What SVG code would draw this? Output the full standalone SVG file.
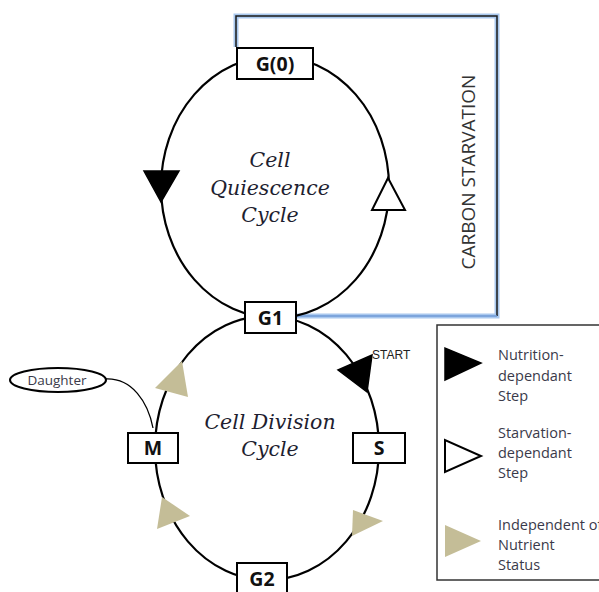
<svg xmlns="http://www.w3.org/2000/svg" width="599" height="592" viewBox="0 0 599 592">
<style>
.cyc{fill:none;stroke:#000;stroke-width:2.2}
.box{fill:#fff;stroke:#000;stroke-width:2}
.lbl{font-family:"Open Sans","Noto Sans",sans-serif;font-weight:bold;font-size:19.5px;fill:#111;text-anchor:middle}
.title{font-family:"DejaVu Serif",serif;font-style:italic;font-size:20.5px;fill:#1e1e30;text-anchor:middle}
.leg{font-family:"Open Sans","Noto Sans",sans-serif;font-size:14.5px;fill:#3a3a4a}
.tan{fill:#c4bd97}
.blk{fill:#000;stroke:#000;stroke-width:1.5;stroke-linejoin:miter}
.wht{fill:#fff;stroke:#000;stroke-width:2;stroke-linejoin:miter}
</style>
<rect width="599" height="592" fill="#fff"/>
<g id="connectors">
  <path d="M236,47 V16 H497 V316 H296" fill="none" stroke="#a9c8ee" stroke-width="5"/>
  <path d="M236,47 V16 H497 V316" fill="none" stroke="#1a1a1a" stroke-width="1.5"/>
  <path d="M497,316 H296" fill="none" stroke="#6f9ad6" stroke-width="1.5"/>
  <path d="M106,379 C132,378 148,402 153,428" fill="none" stroke="#000" stroke-width="1.3"/>
</g>
<g id="quiescence-cycle">
  <ellipse class="cyc" cx="275" cy="187" rx="114" ry="131"/>
  <polygon class="blk" points="144,171 179,171 161,202"/>
  <polygon class="wht" points="372,210 405,210 388,178"/>
  <text class="title" x="270" y="167">Cell</text>
  <text class="title" x="270" y="195">Quiescence</text>
  <text class="title" x="270" y="222">Cycle</text>
</g>
<g id="division-cycle">
  <ellipse class="cyc" cx="267" cy="448" rx="112" ry="132"/>
  <polygon class="blk" points="338,370 372,355 367,392"/>
  <polygon class="tan" points="182,361 188,397 155,388"/>
  <polygon class="tan" points="162,497 190,516 157,529"/>
  <polygon class="tan" points="353,510 383,521 352,536"/>
  <text class="title" x="270" y="429">Cell Division</text>
  <text class="title" x="270" y="456">Cycle</text>
  <text x="372" y="359" font-family="Liberation Sans, Arial, sans-serif" font-size="12" fill="#222">START</text>
</g>
<g id="G0">
  <rect class="box" x="237" y="48" width="76" height="31"/>
  <text class="lbl" x="275" y="70.5">G(0)</text>
</g>
<g id="G1">
  <rect class="box" x="245" y="302" width="51" height="31"/>
  <text class="lbl" x="270.5" y="324.5">G1</text>
</g>
<g id="M">
  <rect class="box" x="128" y="433" width="50" height="30"/>
  <text class="lbl" x="153" y="455">M</text>
</g>
<g id="S">
  <rect class="box" x="353" y="433" width="52" height="30"/>
  <text class="lbl" x="379" y="455">S</text>
</g>
<g id="G2">
  <rect class="box" x="237" y="563" width="50" height="31"/>
  <text class="lbl" x="262" y="585.5">G2</text>
</g>
<g id="daughter">
  <ellipse cx="58" cy="380" rx="48" ry="12" fill="#fff" stroke="#000" stroke-width="2"/>
  <text x="57" y="384.5" font-family="Open Sans, Noto Sans, sans-serif" font-size="13.5" fill="#3a3a4a" text-anchor="middle">Daughter</text>
</g>
<g id="carbon-starvation">
  <text transform="translate(475,172) rotate(-90)" font-family="Open Sans, Noto Sans, sans-serif" font-size="19" fill="#333" text-anchor="middle">CARBON STARVATION</text>
</g>
<g id="legend">
  <rect x="437" y="325" width="170" height="255" fill="none" stroke="#333" stroke-width="1.5"/>
  <polygon class="blk" points="445,348 445,380 481,363"/>
  <polygon class="wht" points="445,440 445,472 481,456"/>
  <polygon class="tan" points="445,525 445,557 481,541"/>
  <text class="leg" x="498" y="360">Nutrition-</text>
  <text class="leg" x="498" y="381">dependant</text>
  <text class="leg" x="498" y="401">Step</text>
  <text class="leg" x="498" y="438">Starvation-</text>
  <text class="leg" x="498" y="458">dependant</text>
  <text class="leg" x="498" y="478">Step</text>
  <text class="leg" x="498" y="530">Independent of</text>
  <text class="leg" x="498" y="550">Nutrient</text>
  <text class="leg" x="498" y="570">Status</text>
</g>
</svg>
